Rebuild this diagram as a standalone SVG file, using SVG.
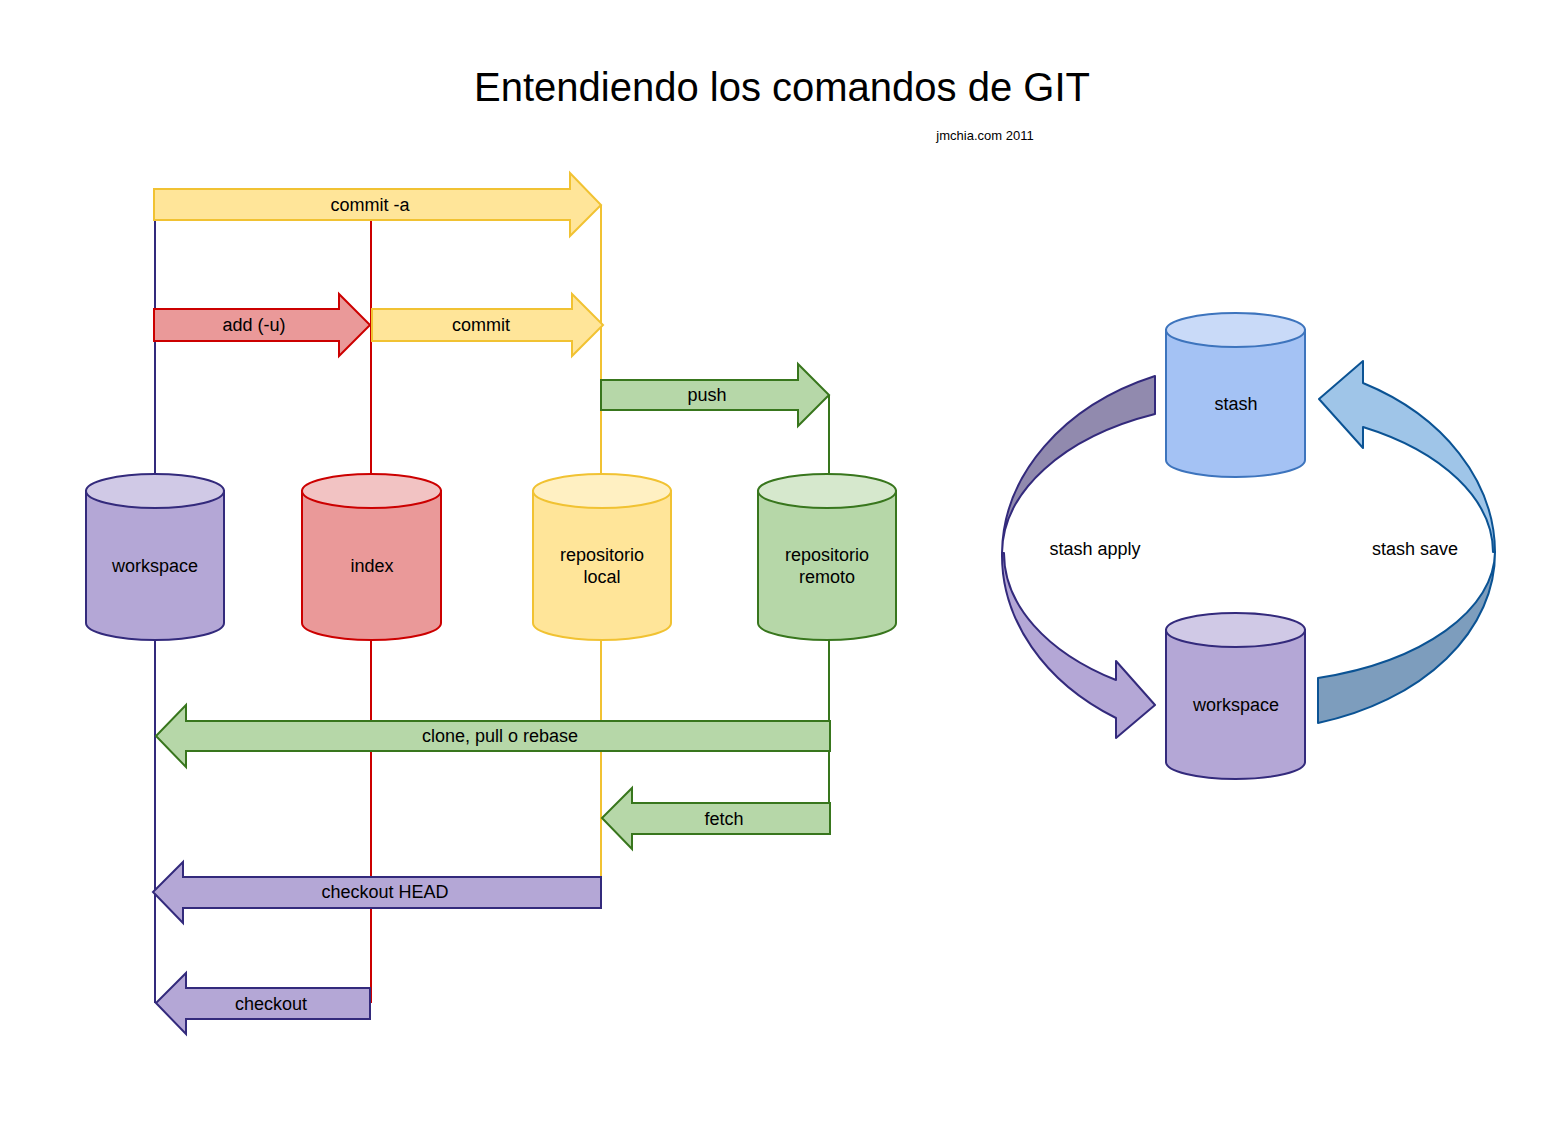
<svg xmlns="http://www.w3.org/2000/svg" width="1565" height="1124" viewBox="0 0 1565 1124">
<style>
text{font-family:"Liberation Sans",Arial,sans-serif;fill:#000;text-anchor:middle}
.lbl{font-size:18px}
.ln{fill:none;stroke-width:2}
.pur{fill:#b4a7d6;stroke:#332a7c;stroke-width:2}
.red{fill:#ea9999;stroke:#cc0000;stroke-width:2}
.yel{fill:#ffe599;stroke:#f1c232;stroke-width:2}
.grn{fill:#b6d7a8;stroke:#38761d;stroke-width:2}
.blu{fill:#a4c2f4;stroke:#3d74bd;stroke-width:2}
</style>
<rect width="1565" height="1124" fill="#fff"/>
<text x="782" y="101" style="font-size:40px">Entendiendo los comandos de GIT</text>
<text x="985" y="140" style="font-size:13px">jmchia.com 2011</text>

<g id="connectors">
  <line class="ln" x1="155" y1="205" x2="155" y2="474" stroke="#332a7c"/>
  <line class="ln" x1="155" y1="640" x2="155" y2="1003" stroke="#332a7c"/>
  <line class="ln" x1="371" y1="220" x2="371" y2="474" stroke="#cc0000"/>
  <line class="ln" x1="371" y1="640" x2="371" y2="1003" stroke="#cc0000"/>
  <line class="ln" x1="601" y1="205" x2="601" y2="474" stroke="#f1c232"/>
  <line class="ln" x1="601" y1="640" x2="601" y2="877" stroke="#f1c232"/>
  <line class="ln" x1="829" y1="395" x2="829" y2="474" stroke="#38761d"/>
  <line class="ln" x1="829" y1="640" x2="829" y2="818" stroke="#38761d"/>

  <g id="arrow-commit-a">
    <polygon class="yel" points="154,189 570,189 570,173 601,205 570,236 570,220 154,220"/>
    <text class="lbl" x="370" y="211">commit -a</text>
  </g>
  <g id="arrow-add">
    <polygon class="red" points="154,309 339,309 339,294 370,325 339,356 339,341 154,341"/>
    <text class="lbl" x="254" y="331">add (-u)</text>
  </g>
  <g id="arrow-commit">
    <polygon class="yel" points="372,309 572,309 572,294 603,325 572,356 572,341 372,341"/>
    <text class="lbl" x="481" y="331">commit</text>
  </g>
  <g id="arrow-push">
    <polygon class="grn" points="601,380 798,380 798,364 829,395 798,426 798,410 601,410"/>
    <text class="lbl" x="707" y="401">push</text>
  </g>
  <g id="arrow-clone">
    <polygon class="grn" points="830,721 186,721 186,705 156,736 186,767 186,751 830,751"/>
    <text class="lbl" x="500" y="742">clone, pull o rebase</text>
  </g>
  <g id="arrow-fetch">
    <polygon class="grn" points="830,803 632,803 632,788 602,818 632,849 632,834 830,834"/>
    <text class="lbl" x="724" y="825">fetch</text>
  </g>
  <g id="arrow-checkout-head">
    <polygon class="pur" points="601,877 183,877 183,862 153,892 183,923 183,908 601,908"/>
    <text class="lbl" x="385" y="898">checkout HEAD</text>
  </g>
  <g id="arrow-checkout">
    <polygon class="pur" points="370,988 186,988 186,973 156,1003 186,1034 186,1019 370,1019"/>
    <text class="lbl" x="271" y="1010">checkout</text>
  </g>

  <g id="arrow-stash-apply">
    <path d="M1155,376 A246,193 0 0 0 1002,553 A245,151 0 0 1 1155,414 Z" fill="#918aae" stroke="#332a7c" stroke-width="2" stroke-linejoin="round"/>
    <path d="M1002,553 A246,193 0 0 0 1116,718 L1116,738 L1155,705 L1116,661 L1116,680 A245,151 0 0 1 1004,553 Z" fill="#b4a7d6" stroke="#332a7c" stroke-width="2" stroke-linejoin="round"/>
    <text class="lbl" x="1095" y="555">stash apply</text>
  </g>
  <g id="arrow-stash-save">
    <path d="M1318,678 L1318,723 A247,177 0 0 0 1495,552 A245,132 0 0 1 1318,678 Z" fill="#7d9dbd" stroke="#0b5394" stroke-width="2" stroke-linejoin="round"/>
    <path d="M1495,552 A247,192 0 0 0 1363,383 L1363,361 L1319,399 L1363,448 L1363,427 A245,142 0 0 1 1493,552 Z" fill="#9fc5e8" stroke="#0b5394" stroke-width="2" stroke-linejoin="round"/>
    <text class="lbl" x="1415" y="555">stash save</text>
  </g>
</g>

<g id="node-workspace">
  <path class="pur" d="M86,491 V623 A69,17 0 0 0 224,623 V491 Z"/>
  <ellipse cx="155" cy="491" rx="69" ry="17" fill="#d0c9e6" stroke="#332a7c" stroke-width="2"/>
  <text class="lbl" x="155" y="572">workspace</text>
</g>
<g id="node-index">
  <path class="red" d="M302,491 V623 A69.5,17 0 0 0 441,623 V491 Z"/>
  <ellipse cx="371.5" cy="491" rx="69.5" ry="17" fill="#f2c3c3" stroke="#cc0000" stroke-width="2"/>
  <text class="lbl" x="372" y="572">index</text>
</g>
<g id="node-repo-local">
  <path class="yel" d="M533,491 V623 A69,17 0 0 0 671,623 V491 Z"/>
  <ellipse cx="602" cy="491" rx="69" ry="17" fill="#fff0c2" stroke="#f1c232" stroke-width="2"/>
  <text class="lbl" x="602" y="561">repositorio</text>
  <text class="lbl" x="602" y="583">local</text>
</g>
<g id="node-repo-remoto">
  <path class="grn" d="M758,491 V623 A69,17 0 0 0 896,623 V491 Z"/>
  <ellipse cx="827" cy="491" rx="69" ry="17" fill="#d6e8cd" stroke="#38761d" stroke-width="2"/>
  <text class="lbl" x="827" y="561">repositorio</text>
  <text class="lbl" x="827" y="583">remoto</text>
</g>
<g id="node-stash">
  <path class="blu" d="M1166,330 V460 A69.5,17 0 0 0 1305,460 V330 Z"/>
  <ellipse cx="1235.5" cy="330" rx="69.5" ry="17" fill="#c9daf8" stroke="#3d74bd" stroke-width="2"/>
  <text class="lbl" x="1236" y="410">stash</text>
</g>
<g id="node-workspace-2">
  <path class="pur" d="M1166,630 V762 A69.5,17 0 0 0 1305,762 V630 Z"/>
  <ellipse cx="1235.5" cy="630" rx="69.5" ry="17" fill="#d0c9e6" stroke="#332a7c" stroke-width="2"/>
  <text class="lbl" x="1236" y="711">workspace</text>
</g>
</svg>
